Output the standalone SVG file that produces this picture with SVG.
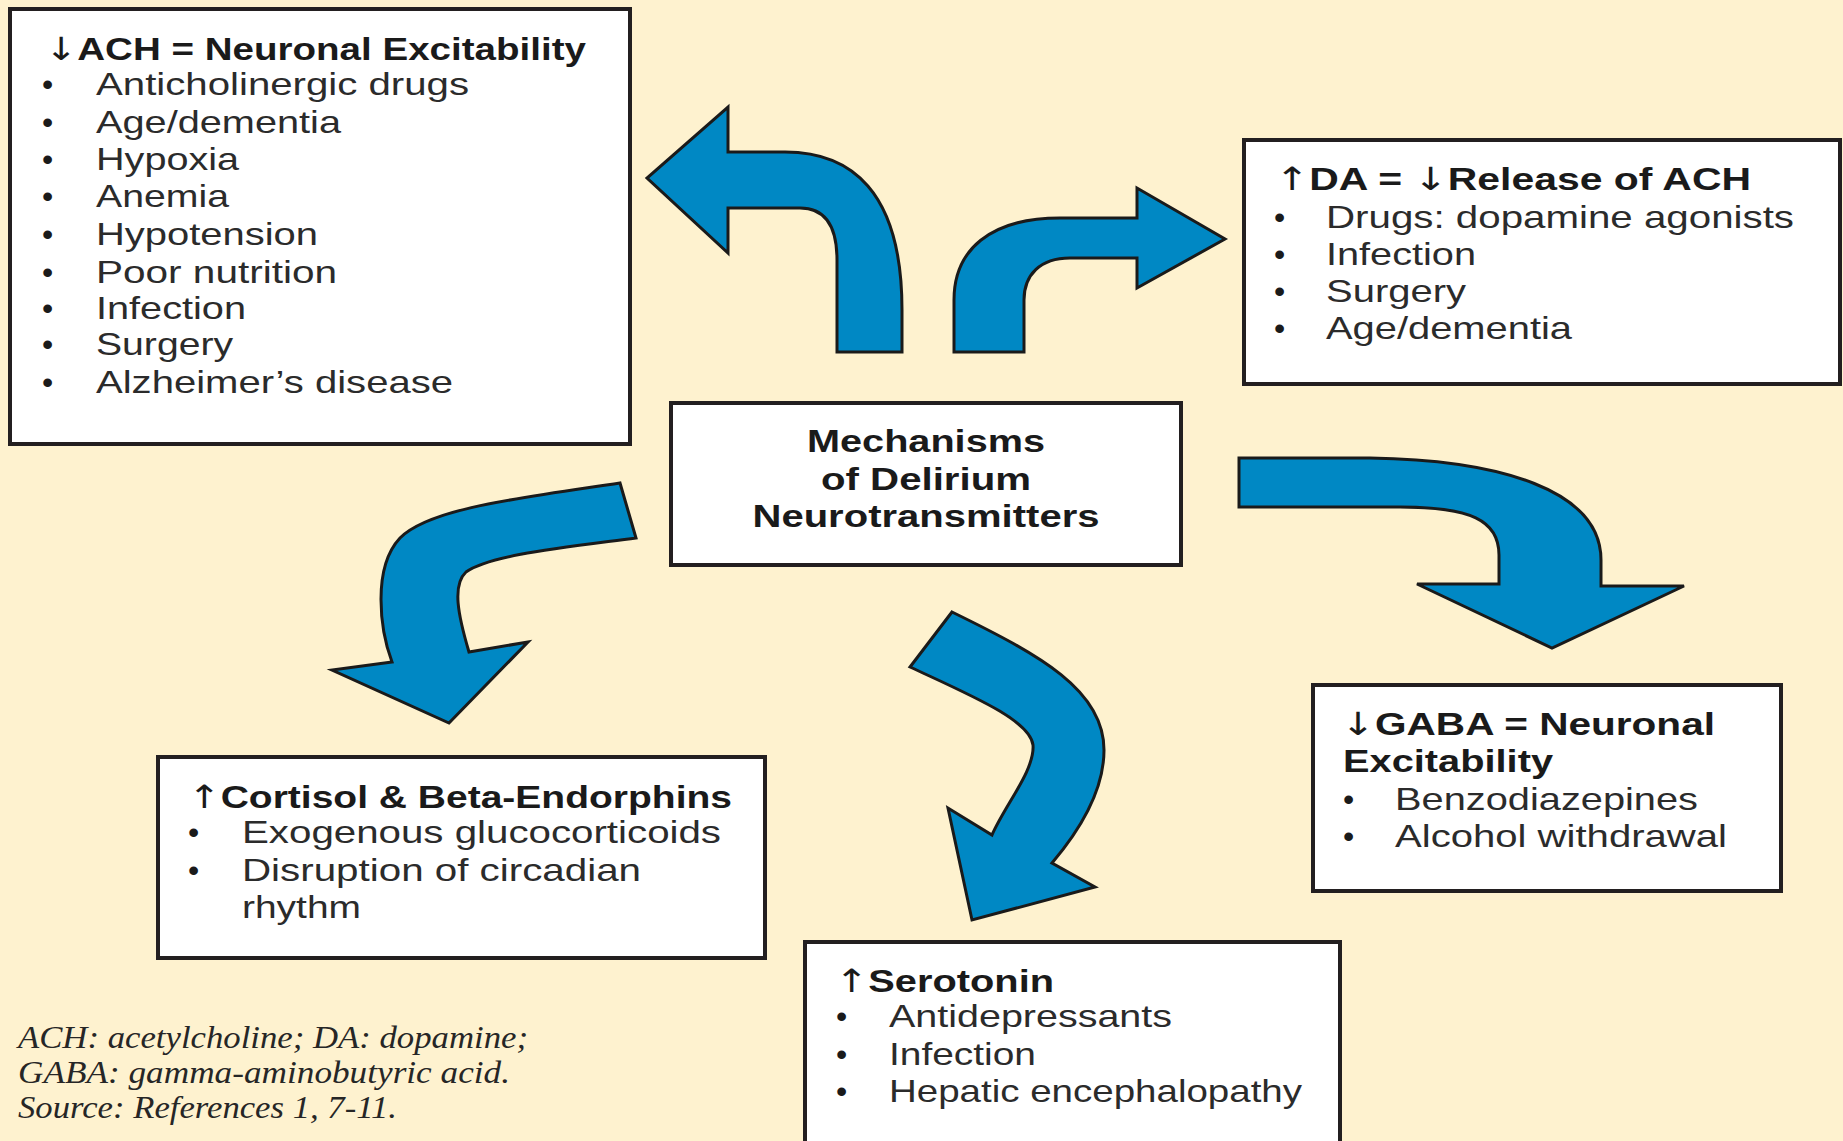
<svg xmlns="http://www.w3.org/2000/svg" width="1843" height="1141" viewBox="0 0 1843 1141">
<style>
.bg{fill:#fef2cf}
.box{fill:#ffffff;stroke:#231f20;stroke-width:4}
.arr{fill:#0088c4;stroke:#1a1a1a;stroke-width:3;stroke-linejoin:miter}
.t{font-family:"Liberation Sans",Arial,sans-serif;font-size:32px;fill:#2b2b2b}
.h{font-family:"Liberation Sans",Arial,sans-serif;font-size:32px;font-weight:bold;fill:#1a1a1a}
.b{font-family:"Liberation Sans",Arial,sans-serif;font-size:32px;fill:#1a1a1a}
.ar{font-family:"DejaVu Sans",sans-serif;font-weight:normal}
.fn{font-family:"Liberation Serif","Times New Roman",serif;font-style:italic;font-size:31px;fill:#262626}
</style>
<rect class="bg" x="0" y="0" width="1843" height="1141"/>
<g id="connectors">
<path class="arr" d="M837 352 L837 260 C837 225 825 208 800 208 L728 208 L728 253 L647 178 L728 107 L728 152 L785 152 C850 152 902 190 902 310 L902 352 Z"/>
<path class="arr" d="M954 352 L954 300 C954 250 990 218 1060 218 L1137 218 L1137 188 L1225 239 L1137 288 L1137 258 L1070 258 C1040 258 1024 275 1024 300 L1024 352 Z"/>
<path class="arr" d="M1239 458 L1370 458 C1500 460 1601 490 1601 560 L1601 586 L1684 586 L1552 648 L1417 584 L1499 584 L1499 555 C1499 520 1470 507 1400 507 L1239 507 Z"/>
<path class="arr" d="M620 483 C520 498 430 508 400 538 C372 568 380 630 392 662 L332 670 L449 723 L528 642 L469 652 C458 615 452 585 466 572 C490 555 560 548 636 538 Z"/>
<path class="arr" d="M952 612 C1040 655 1104 690 1104 750 C1104 790 1080 830 1052 863 L1095 887 L972 920 L948 808 L992 835 C1005 805 1035 770 1033 745 C1030 720 970 695 910 667 Z"/>
</g>
<g id="ach">
<rect class="box" x="10" y="9" width="620" height="435"/>
<text class="h" x="45" y="60" textLength="541" lengthAdjust="spacingAndGlyphs"><tspan class="ar">↓</tspan>ACH = Neuronal Excitability</text>
<g class="b"><text x="42" y="95">•</text><text x="42" y="133">•</text><text x="42" y="170">•</text><text x="42" y="207">•</text><text x="42" y="245">•</text><text x="42" y="283">•</text><text x="42" y="319">•</text><text x="42" y="355">•</text><text x="42" y="393">•</text></g>
<text class="t" x="96" y="95" textLength="373" lengthAdjust="spacingAndGlyphs">Anticholinergic drugs</text>
<text class="t" x="96" y="133" textLength="245" lengthAdjust="spacingAndGlyphs">Age/dementia</text>
<text class="t" x="96" y="170" textLength="143" lengthAdjust="spacingAndGlyphs">Hypoxia</text>
<text class="t" x="96" y="207" textLength="133" lengthAdjust="spacingAndGlyphs">Anemia</text>
<text class="t" x="96" y="245" textLength="222" lengthAdjust="spacingAndGlyphs">Hypotension</text>
<text class="t" x="96" y="283" textLength="241" lengthAdjust="spacingAndGlyphs">Poor nutrition</text>
<text class="t" x="96" y="319" textLength="150" lengthAdjust="spacingAndGlyphs">Infection</text>
<text class="t" x="96" y="355" textLength="137" lengthAdjust="spacingAndGlyphs">Surgery</text>
<text class="t" x="96" y="393" textLength="357" lengthAdjust="spacingAndGlyphs">Alzheimer’s disease</text>
</g>
<g id="da">
<rect class="box" x="1244" y="140" width="596" height="244"/>
<text class="h" x="1275" y="190" textLength="476" lengthAdjust="spacingAndGlyphs"><tspan class="ar">↑</tspan>DA = <tspan class="ar">↓</tspan>Release of ACH</text>
<g class="b"><text x="1274" y="228">•</text><text x="1274" y="265">•</text><text x="1274" y="302">•</text><text x="1274" y="339">•</text></g>
<text class="t" x="1326" y="228" textLength="468" lengthAdjust="spacingAndGlyphs">Drugs: dopamine agonists</text>
<text class="t" x="1326" y="265" textLength="150" lengthAdjust="spacingAndGlyphs">Infection</text>
<text class="t" x="1326" y="302" textLength="140" lengthAdjust="spacingAndGlyphs">Surgery</text>
<text class="t" x="1326" y="339" textLength="246" lengthAdjust="spacingAndGlyphs">Age/dementia</text>
</g>
<g id="center">
<rect class="box" x="671" y="403" width="510" height="162"/>
<text class="h" x="926" y="452" text-anchor="middle" textLength="238" lengthAdjust="spacingAndGlyphs">Mechanisms</text>
<text class="h" x="926" y="490" text-anchor="middle" textLength="210" lengthAdjust="spacingAndGlyphs">of Delirium</text>
<text class="h" x="926" y="527" text-anchor="middle" textLength="347" lengthAdjust="spacingAndGlyphs">Neurotransmitters</text>
</g>
<g id="gaba">
<rect class="box" x="1313" y="685" width="468" height="206"/>
<text class="h" x="1341" y="735" textLength="374" lengthAdjust="spacingAndGlyphs"><tspan class="ar">↓</tspan>GABA = Neuronal</text>
<text class="h" x="1343" y="772" textLength="210" lengthAdjust="spacingAndGlyphs">Excitability</text>
<g class="b"><text x="1343" y="810">•</text><text x="1343" y="847">•</text></g>
<text class="t" x="1395" y="810" textLength="303" lengthAdjust="spacingAndGlyphs">Benzodiazepines</text>
<text class="t" x="1395" y="847" textLength="332" lengthAdjust="spacingAndGlyphs">Alcohol withdrawal</text>
</g>
<g id="cortisol">
<rect class="box" x="158" y="757" width="607" height="201"/>
<text class="h" x="188" y="808" textLength="544" lengthAdjust="spacingAndGlyphs"><tspan class="ar">↑</tspan>Cortisol &amp; Beta-Endorphins</text>
<g class="b"><text x="188" y="843">•</text><text x="188" y="881">•</text></g>
<text class="t" x="242" y="843" textLength="479" lengthAdjust="spacingAndGlyphs">Exogenous glucocorticoids</text>
<text class="t" x="242" y="881" textLength="399" lengthAdjust="spacingAndGlyphs">Disruption of circadian</text>
<text class="t" x="242" y="918" textLength="119" lengthAdjust="spacingAndGlyphs">rhythm</text>
</g>
<g id="serotonin">
<rect class="box" x="805" y="942" width="535" height="220"/>
<text class="h" x="835" y="992" textLength="219" lengthAdjust="spacingAndGlyphs"><tspan class="ar">↑</tspan>Serotonin</text>
<g class="b"><text x="836" y="1027">•</text><text x="836" y="1065">•</text><text x="836" y="1102">•</text></g>
<text class="t" x="889" y="1027" textLength="283" lengthAdjust="spacingAndGlyphs">Antidepressants</text>
<text class="t" x="889" y="1065" textLength="147" lengthAdjust="spacingAndGlyphs">Infection</text>
<text class="t" x="889" y="1102" textLength="413" lengthAdjust="spacingAndGlyphs">Hepatic encephalopathy</text>
</g>
<g id="footnote">
<text class="fn" x="18" y="1048" textLength="510" lengthAdjust="spacingAndGlyphs">ACH: acetylcholine; DA: dopamine;</text>
<text class="fn" x="18" y="1083" textLength="492" lengthAdjust="spacingAndGlyphs">GABA: gamma-aminobutyric acid.</text>
<text class="fn" x="18" y="1118" textLength="379" lengthAdjust="spacingAndGlyphs">Source: References 1, 7-11.</text>
</g>
</svg>
